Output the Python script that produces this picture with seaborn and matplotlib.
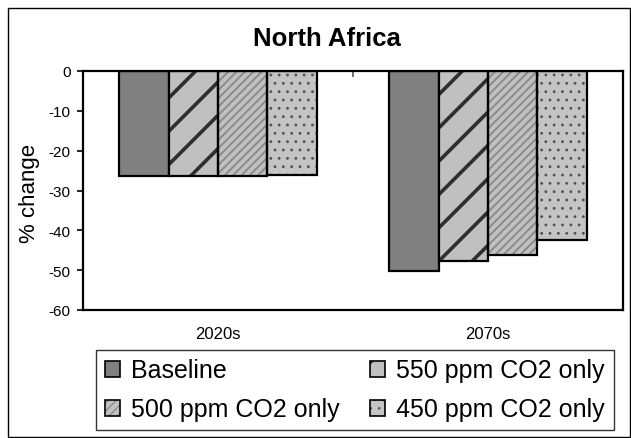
import matplotlib
matplotlib.use("Agg")
import matplotlib.pyplot as plt
import seaborn as sns
import pandas as pd
from matplotlib.patches import Rectangle
from matplotlib.legend_handler import HandlerPatch

# ---- data ----
periods = ["2020s", "2070s"]
scenarios = ["Baseline", "550 ppm CO2 only", "500 ppm CO2 only", "450 ppm CO2 only"]
baseline = [-26.4, -50.2]
ppm550 = [-26.4, -47.7]
ppm500 = [-26.4, -46.1]
ppm450 = [-26.0, -42.5]
ytick_values = [0, -10, -20, -30, -40, -50, -60]
ytick_labels = ["0", "-10", "-20", "-30", "-40", "-50", "-60"]

series = {s: v for s, v in zip(scenarios, [baseline, ppm550, ppm500, ppm450])}
df = pd.DataFrame(
    [(p, s, series[s][i]) for s in scenarios for i, p in enumerate(periods)],
    columns=["period", "scenario", "value"],
)

# styles: face colour, hatch, hatch colour, hatch linewidth
styles = {
    "Baseline": ("#808080", None, None, 1.0),
    "550 ppm CO2 only": ("#c0c0c0", "/", "#2e2e2e", 2.6),
    "500 ppm CO2 only": ("#c0c0c0", "////", "#888888", 1.3),
    "450 ppm CO2 only": ("#c4c4c4", "..", "#505050", 0.8),
}

sns.set_theme(style="white")
plt.rcParams["font.family"] = ["Liberation Sans", "DejaVu Sans"]
plt.rcParams["hatch.linewidth"] = 1.5
for k in ["text.color", "axes.labelcolor", "xtick.color", "ytick.color"]:
    plt.rcParams[k] = "black"

fig = plt.figure(figsize=(6.31, 4.39), dpi=100)
ax = fig.add_axes([83 / 631, 1 - 311 / 439, (623 - 83) / 631, (311 - 72) / 439])

palette = {s: styles[s][0] for s in scenarios}
sns.barplot(
    data=df, x="period", y="value", hue="scenario",
    order=periods, hue_order=scenarios, palette=palette,
    width=0.73, saturation=1, edgecolor="black", linewidth=1.6,
    legend=False, ax=ax,
)


def style_patch(p, scen, lw=1.6, hscale=1.0):
    """Style a patch; returns True if a separate black border is needed."""
    fc, hatch, hc, hlw = styles[scen]
    p.set_facecolor(fc)
    p.set_edgecolor("black")
    p.set_linewidth(lw)
    if hatch:
        p.set_hatch(hatch)
        if hasattr(p, "set_hatch_linewidth"):
            p.set_hatch_linewidth(max(hlw * hscale, 0.6))
        if hasattr(p, "set_hatchcolor"):
            p.set_hatchcolor(hc)
        else:
            p.set_edgecolor(hc)
            p.set_linewidth(0)
            return True
    return False


for cont, scen in zip(ax.containers, scenarios):
    for p in cont:
        if style_patch(p, scen):
            ax.add_patch(Rectangle(p.get_xy(), p.get_width(), p.get_height(),
                                   fill=False, edgecolor="black", linewidth=1.6,
                                   zorder=p.get_zorder() + 0.1))

ax.set_xlim(-0.5, 1.5)
ax.set_ylim(-60, 0)
ax.set_yticks(ytick_values)
ax.set_yticklabels(ytick_labels)
ax.set_xlabel("")
ax.set_ylabel("")

for sp in ax.spines.values():
    sp.set_visible(True)
    sp.set_color("black")
    sp.set_linewidth(1.6)

ax.tick_params(axis="y", direction="out", length=4, width=1.2, labelsize=11,
               pad=5, colors="black", left=True)
ax.tick_params(axis="x", which="major", length=0, pad=11.5, labelsize=12,
               labelcolor="black")
ax.set_xticks([0.5], minor=True)
ax.tick_params(axis="x", which="minor", top=True, bottom=False,
               direction="in", length=4, width=1.2, color="#555555")

# title and y label
fig.text(327 / 631, 1 - 38.5 / 439, "North Africa", fontsize=18.5,
         fontweight="bold", ha="center", va="center", color="black")
fig.text(29 / 631, 1 - 193 / 439, "% change", fontsize=16, rotation=90,
         ha="center", va="center", color="black")


# legend handler that keeps the hatch colour of each scenario
class StyledHandler(HandlerPatch):
    def __init__(self, scen, **kw):
        super().__init__(**kw)
        self.scen = scen

    def create_artists(self, legend, orig_handle, xdescent, ydescent,
                       width, height, fontsize, trans):
        arts = super().create_artists(legend, orig_handle, xdescent, ydescent,
                                      width, height, fontsize, trans)
        out = []
        for a in arts:
            need_border = style_patch(a, self.scen, lw=1.2, hscale=0.7)
            out.append(a)
            if need_border:
                b = Rectangle((-xdescent, -ydescent), width, height,
                              fill=False, edgecolor="black", linewidth=1.2,
                              transform=trans)
                out.append(b)
        return out


handles = [Rectangle((0, 0), 1, 1, facecolor=styles[s][0], edgecolor="black")
           for s in scenarios]
hmap = {h: StyledHandler(s) for h, s in zip(handles, scenarios)}
order = [0, 2, 1, 3]  # row-wise: Baseline, 550 / 500, 450
leg = fig.legend(
    [handles[i] for i in order], [scenarios[i] for i in order],
    handler_map=hmap,
    ncol=2, loc="center", bbox_to_anchor=(355 / 631, 1 - 391 / 439),
    fontsize=18, frameon=True, fancybox=False, edgecolor="black",
    handlelength=0.6, handleheight=0.6, handletextpad=0.45,
    columnspacing=1.2, labelspacing=0.6, borderpad=0.35,
)
leg.get_frame().set_linewidth(1.0)
for t in leg.get_texts():
    t.set_color("black")

# outer chart border
fig.patches.append(Rectangle((8 / 631, 1 / 439), (629.5 - 8) / 631, (438 - 9) / 439,
                             transform=fig.transFigure, fill=False,
                             edgecolor="black", linewidth=1.0))

fig.savefig("out.png", dpi=100)
